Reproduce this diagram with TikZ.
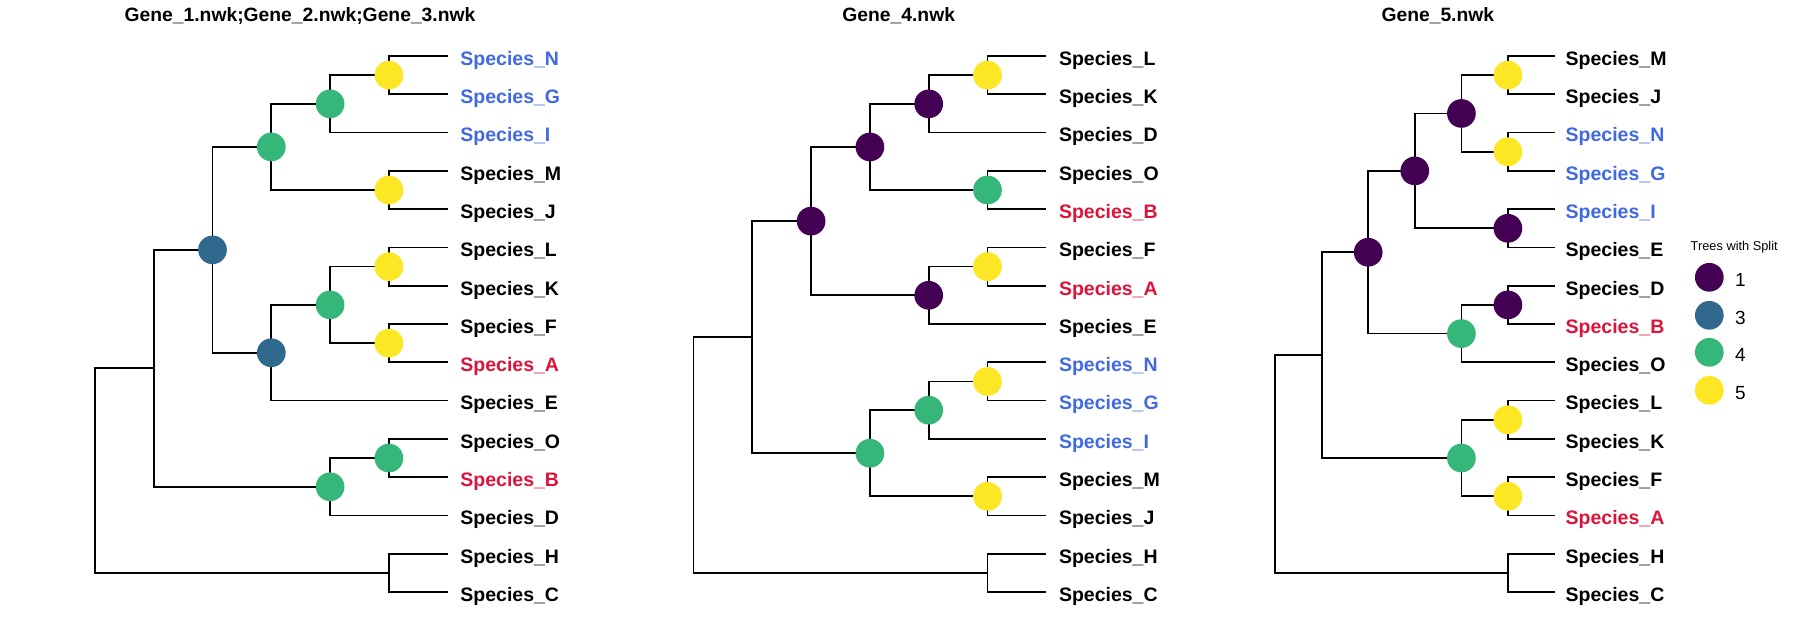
\documentclass[tikz,border=0pt]{standalone}
\usepackage{fontspec}
\setmainfont{Liberation Sans}
\definecolor{vone}{HTML}{440154}
\definecolor{vthree}{HTML}{31688E}
\definecolor{vfour}{HTML}{35B779}
\definecolor{vfive}{HTML}{FDE725}
\definecolor{lblue}{HTML}{4169E1}
\definecolor{lred}{HTML}{DC143C}
\newcommand\elb[2]{\draw[edge] (#1) |- (#2);}
\newcommand\tiplab[4]{\node[tip,#4] (#1-lab) at ([shift={(#2,9.3)}]#1) {#3};}
\begin{document}
\begin{tikzpicture}[x=1pt,y=-1pt,
  edge/.style={line width=1.7pt,black},
  split/.style={circle,inner sep=0pt,minimum size=28.7pt,draw=none},
  sone/.style={split,fill=vone},
  sthree/.style={split,fill=vthree},
  sfour/.style={split,fill=vfour},
  sfive/.style={split,fill=vfive},
  tip/.style={anchor=base west,inner sep=0pt,font=\fontsize{19.5}{20}\selectfont\bfseries},
  bl/.style={text=lblue},
  rd/.style={text=lred},
  bk/.style={text=black},
  ttl/.style={anchor=base,inner sep=0pt,font=\fontsize{19.3}{20}\selectfont\bfseries},
  legt/.style={anchor=base west,inner sep=0pt,font=\fontsize{12.8}{14}\selectfont},
  legl/.style={anchor=base west,inner sep=0pt,font=\fontsize{19}{20}\selectfont}]
\useasboundingbox (0,0) rectangle (1795,626);
\fill[white] (0,0) rectangle (1795,626);

% ---------------- Tree 1 ----------------
\coordinate (aR) at (94.9,470.6);
\coordinate (aA1) at (153.7,368.31);
\coordinate (aB1) at (212.5,249.85);
\coordinate (aG1) at (271.3,146.94);
\coordinate (aG2) at (330.1,103.86);
\coordinate (aNG) at (388.9,75.15);
\coordinate (aMJ) at (388.9,190.02);
\coordinate (aB2) at (271.3,352.75);
\coordinate (aG3) at (330.1,304.89);
\coordinate (aLK) at (388.9,266.6);
\coordinate (aFA) at (388.9,343.18);
\coordinate (aOBD) at (330.1,486.77);
\coordinate (aOB) at (388.9,458.05);
\coordinate (aHC) at (388.9,572.92);
\coordinate (aN) at (447.7,56);
\coordinate (aG) at (447.7,94.29);
\coordinate (aI) at (447.7,132.58);
\coordinate (aM) at (447.7,170.87);
\coordinate (aJ) at (447.7,209.16);
\coordinate (aL) at (447.7,247.45);
\coordinate (aK) at (447.7,285.74);
\coordinate (aF) at (447.7,324.03);
\coordinate (aA) at (447.7,362.32);
\coordinate (aE) at (447.7,400.61);
\coordinate (aO) at (447.7,438.9);
\coordinate (aB) at (447.7,477.19);
\coordinate (aD) at (447.7,515.48);
\coordinate (aH) at (447.7,553.77);
\coordinate (aC) at (447.7,592.06);
\elb{aR}{aA1}\elb{aR}{aHC}
\elb{aA1}{aB1}\elb{aA1}{aOBD}
\elb{aB1}{aG1}\elb{aB1}{aB2}
\elb{aG1}{aG2}\elb{aG1}{aMJ}
\elb{aG2}{aNG}\elb{aG2}{aI}
\elb{aNG}{aN}\elb{aNG}{aG}
\elb{aMJ}{aM}\elb{aMJ}{aJ}
\elb{aB2}{aG3}\elb{aB2}{aE}
\elb{aG3}{aLK}\elb{aG3}{aFA}
\elb{aLK}{aL}\elb{aLK}{aK}
\elb{aFA}{aF}\elb{aFA}{aA}
\elb{aOBD}{aOB}\elb{aOBD}{aD}
\elb{aOB}{aO}\elb{aOB}{aB}
\elb{aHC}{aH}\elb{aHC}{aC}
\node[sthree] (aB1-dot) at (aB1) {};
\node[sthree] (aB2-dot) at (aB2) {};
\node[sfour] (aG1-dot) at (aG1) {};
\node[sfour] (aG2-dot) at (aG2) {};
\node[sfour] (aG3-dot) at (aG3) {};
\node[sfour] (aOBD-dot) at (aOBD) {};
\node[sfour] (aOB-dot) at (aOB) {};
\node[sfive] (aNG-dot) at (aNG) {};
\node[sfive] (aMJ-dot) at (aMJ) {};
\node[sfive] (aLK-dot) at (aLK) {};
\node[sfive] (aFA-dot) at (aFA) {};
\tiplab{aN}{12.5}{Species\_N}{bl}
\tiplab{aG}{12.5}{Species\_G}{bl}
\tiplab{aI}{12.5}{Species\_I}{bl}
\tiplab{aM}{12.5}{Species\_M}{bk}
\tiplab{aJ}{12.5}{Species\_J}{bk}
\tiplab{aL}{12.5}{Species\_L}{bk}
\tiplab{aK}{12.5}{Species\_K}{bk}
\tiplab{aF}{12.5}{Species\_F}{bk}
\tiplab{aA}{12.5}{Species\_A}{rd}
\tiplab{aE}{12.5}{Species\_E}{bk}
\tiplab{aO}{12.5}{Species\_O}{bk}
\tiplab{aB}{12.5}{Species\_B}{rd}
\tiplab{aD}{12.5}{Species\_D}{bk}
\tiplab{aH}{12.5}{Species\_H}{bk}
\tiplab{aC}{12.5}{Species\_C}{bk}
\node[ttl] (atitle) at (300,21.3) {Gene\_1.nwk;Gene\_2.nwk;Gene\_3.nwk};

% ---------------- Tree 2 ----------------
\coordinate (bR) at (693.5,455.06);
\coordinate (bP1) at (752.3,337.2);
\coordinate (bP2) at (811.1,221.13);
\coordinate (bP3) at (869.9,146.94);
\coordinate (bP5) at (928.7,103.86);
\coordinate (bLK) at (987.5,75.15);
\coordinate (bOB) at (987.5,190.02);
\coordinate (bP4) at (928.7,295.31);
\coordinate (bFA) at (987.5,266.6);
\coordinate (bG1) at (869.9,453.26);
\coordinate (bG2) at (928.7,410.18);
\coordinate (bNG) at (987.5,381.47);
\coordinate (bMJ) at (987.5,496.34);
\coordinate (bHC) at (987.5,572.92);
\coordinate (bL) at (1046.3,56);
\coordinate (bK) at (1046.3,94.29);
\coordinate (bD) at (1046.3,132.58);
\coordinate (bO) at (1046.3,170.87);
\coordinate (bB) at (1046.3,209.16);
\coordinate (bF) at (1046.3,247.45);
\coordinate (bA) at (1046.3,285.74);
\coordinate (bE) at (1046.3,324.03);
\coordinate (bN) at (1046.3,362.32);
\coordinate (bG) at (1046.3,400.61);
\coordinate (bI) at (1046.3,438.9);
\coordinate (bM) at (1046.3,477.19);
\coordinate (bJ) at (1046.3,515.48);
\coordinate (bH) at (1046.3,553.77);
\coordinate (bC) at (1046.3,592.06);
\elb{bR}{bP1}\elb{bR}{bHC}
\elb{bP1}{bP2}\elb{bP1}{bG1}
\elb{bP2}{bP3}\elb{bP2}{bP4}
\elb{bP3}{bP5}\elb{bP3}{bOB}
\elb{bP5}{bLK}\elb{bP5}{bD}
\elb{bLK}{bL}\elb{bLK}{bK}
\elb{bOB}{bO}\elb{bOB}{bB}
\elb{bP4}{bFA}\elb{bP4}{bE}
\elb{bFA}{bF}\elb{bFA}{bA}
\elb{bG1}{bG2}\elb{bG1}{bMJ}
\elb{bG2}{bNG}\elb{bG2}{bI}
\elb{bNG}{bN}\elb{bNG}{bG}
\elb{bMJ}{bM}\elb{bMJ}{bJ}
\elb{bHC}{bH}\elb{bHC}{bC}
\node[sone] (bP2-dot) at (bP2) {};
\node[sone] (bP3-dot) at (bP3) {};
\node[sone] (bP5-dot) at (bP5) {};
\node[sone] (bP4-dot) at (bP4) {};
\node[sfive] (bLK-dot) at (bLK) {};
\node[sfour] (bOB-dot) at (bOB) {};
\node[sfive] (bFA-dot) at (bFA) {};
\node[sfour] (bG1-dot) at (bG1) {};
\node[sfour] (bG2-dot) at (bG2) {};
\node[sfive] (bNG-dot) at (bNG) {};
\node[sfive] (bMJ-dot) at (bMJ) {};
\tiplab{bL}{12.5}{Species\_L}{bk}
\tiplab{bK}{12.5}{Species\_K}{bk}
\tiplab{bD}{12.5}{Species\_D}{bk}
\tiplab{bO}{12.5}{Species\_O}{bk}
\tiplab{bB}{12.5}{Species\_B}{rd}
\tiplab{bF}{12.5}{Species\_F}{bk}
\tiplab{bA}{12.5}{Species\_A}{rd}
\tiplab{bE}{12.5}{Species\_E}{bk}
\tiplab{bN}{12.5}{Species\_N}{bl}
\tiplab{bG}{12.5}{Species\_G}{bl}
\tiplab{bI}{12.5}{Species\_I}{bl}
\tiplab{bM}{12.5}{Species\_M}{bk}
\tiplab{bJ}{12.5}{Species\_J}{bk}
\tiplab{bH}{12.5}{Species\_H}{bk}
\tiplab{bC}{12.5}{Species\_C}{bk}
\node[ttl] (btitle) at (898.7,21.3) {Gene\_4.nwk};

% ---------------- Tree 3 ----------------
\coordinate (cR) at (1275.1,464.03);
\coordinate (cP1) at (1321.7,355.15);
\coordinate (cP2) at (1368.2,252.24);
\coordinate (cP3) at (1414.8,170.87);
\coordinate (cP4) at (1461.4,113.44);
\coordinate (cMJ) at (1507.9,75.15);
\coordinate (cNG) at (1507.9,151.73);
\coordinate (cIE) at (1507.9,228.31);
\coordinate (cDBO) at (1461.4,333.6);
\coordinate (cDB) at (1507.9,304.89);
\coordinate (cLKFA) at (1461.4,458.05);
\coordinate (cLK) at (1507.9,419.76);
\coordinate (cFA) at (1507.9,496.34);
\coordinate (cHC) at (1507.9,572.92);
\coordinate (cM) at (1554.5,56);
\coordinate (cJ) at (1554.5,94.29);
\coordinate (cN) at (1554.5,132.58);
\coordinate (cG) at (1554.5,170.87);
\coordinate (cI) at (1554.5,209.16);
\coordinate (cE) at (1554.5,247.45);
\coordinate (cD) at (1554.5,285.74);
\coordinate (cB) at (1554.5,324.03);
\coordinate (cO) at (1554.5,362.32);
\coordinate (cL) at (1554.5,400.61);
\coordinate (cK) at (1554.5,438.9);
\coordinate (cF) at (1554.5,477.19);
\coordinate (cA) at (1554.5,515.48);
\coordinate (cH) at (1554.5,553.77);
\coordinate (cC) at (1554.5,592.06);
\elb{cR}{cP1}\elb{cR}{cHC}
\elb{cP1}{cP2}\elb{cP1}{cLKFA}
\elb{cP2}{cP3}\elb{cP2}{cDBO}
\elb{cP3}{cP4}\elb{cP3}{cIE}
\elb{cP4}{cMJ}\elb{cP4}{cNG}
\elb{cMJ}{cM}\elb{cMJ}{cJ}
\elb{cNG}{cN}\elb{cNG}{cG}
\elb{cIE}{cI}\elb{cIE}{cE}
\elb{cDBO}{cDB}\elb{cDBO}{cO}
\elb{cDB}{cD}\elb{cDB}{cB}
\elb{cLKFA}{cLK}\elb{cLKFA}{cFA}
\elb{cLK}{cL}\elb{cLK}{cK}
\elb{cFA}{cF}\elb{cFA}{cA}
\elb{cHC}{cH}\elb{cHC}{cC}
\node[sone] (cP2-dot) at (cP2) {};
\node[sone] (cP3-dot) at (cP3) {};
\node[sone] (cP4-dot) at (cP4) {};
\node[sfive] (cMJ-dot) at (cMJ) {};
\node[sfive] (cNG-dot) at (cNG) {};
\node[sone] (cIE-dot) at (cIE) {};
\node[sfour] (cDBO-dot) at (cDBO) {};
\node[sone] (cDB-dot) at (cDB) {};
\node[sfour] (cLKFA-dot) at (cLKFA) {};
\node[sfive] (cLK-dot) at (cLK) {};
\node[sfive] (cFA-dot) at (cFA) {};
\tiplab{cM}{11}{Species\_M}{bk}
\tiplab{cJ}{11}{Species\_J}{bk}
\tiplab{cN}{11}{Species\_N}{bl}
\tiplab{cG}{11}{Species\_G}{bl}
\tiplab{cI}{11}{Species\_I}{bl}
\tiplab{cE}{11}{Species\_E}{bk}
\tiplab{cD}{11}{Species\_D}{bk}
\tiplab{cB}{11}{Species\_B}{rd}
\tiplab{cO}{11}{Species\_O}{bk}
\tiplab{cL}{11}{Species\_L}{bk}
\tiplab{cK}{11}{Species\_K}{bk}
\tiplab{cF}{11}{Species\_F}{bk}
\tiplab{cA}{11}{Species\_A}{rd}
\tiplab{cH}{11}{Species\_H}{bk}
\tiplab{cC}{11}{Species\_C}{bk}
\node[ttl] (ctitle) at (1437.8,21.3) {Gene\_5.nwk};

% ---------------- Legend ----------------
\node[legt] (legtitle) at (1690.5,250.7) {Trees with Split};
\node[sone] (key1) at (1709.3,277.3) {};
\node[sthree] (key3) at (1709.3,315.3) {};
\node[sfour] (key4) at (1709.3,352.3) {};
\node[sfive] (key5) at (1709.3,390.3) {};
\node[legl] (lab1) at (1735,286) {1};
\node[legl] (lab3) at (1735,324) {3};
\node[legl] (lab4) at (1735,361) {4};
\node[legl] (lab5) at (1735,399) {5};
\end{tikzpicture}
\end{document}
